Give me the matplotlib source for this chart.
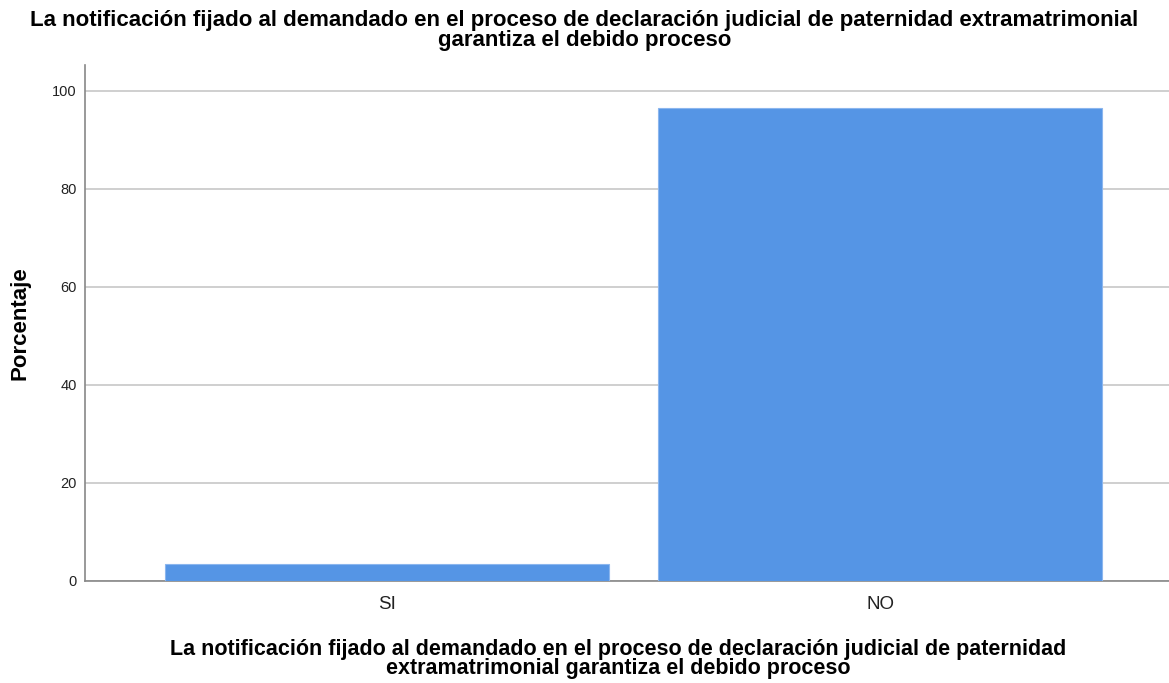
import matplotlib
matplotlib.use("Agg")
import matplotlib.pyplot as plt

categories = ["SI", "NO"]
percentages = [3.4, 96.6]
y_ticks = [0, 20, 40, 60, 80, 100]
title = ("La notificación fijado al demandado en el proceso de declaración judicial de paternidad extramatrimonial\n"
         "garantiza el debido proceso")
x_label = ("La notificación fijado al demandado en el proceso de declaración judicial de paternidad\n"
           "extramatrimonial garantiza el debido proceso")
y_label = "Porcentaje"

plt.rcParams['font.family'] = ['Liberation Sans', 'DejaVu Sans']

W, H = 1169, 683
fig = plt.figure(figsize=(W / 100, H / 100), dpi=100)
left, right, top, bottom = 85, 1169, 65, 581
ax = fig.add_axes([left / W, 1 - bottom / H, (right - left) / W, (bottom - top) / H])

x = list(range(len(categories)))
ax.bar(x, percentages, width=0.9, color="#5595e5", edgecolor="#8bb6ee", linewidth=0.8, zorder=3)

ax.set_xlim(-0.613, 1.586)
ax.set_ylim(0, 105.3)
ax.set_yticks(y_ticks)
ax.set_xticks(x)
ax.set_xticklabels(categories, fontsize=13.5, color="#222222")
ax.tick_params(axis='y', labelsize=10.5, colors="#222222", length=0, pad=6)
ax.tick_params(axis='x', length=0, pad=11)
ax.yaxis.grid(True, color="#cccccc", linewidth=1.3, zorder=0)
ax.set_axisbelow(True)
for s in ("top", "right"):
    ax.spines[s].set_visible(False)
for s in ("left", "bottom"):
    ax.spines[s].set_color("#888888")
    ax.spines[s].set_linewidth(1.2)

fig.text(20 / W, 1 - 323 / H, y_label, rotation=90, ha="center", va="center",
         fontsize=16, fontweight="bold")
fig.text(0.5, 1 - 30.5 / H, title, ha="center", va="center", fontsize=16,
         fontweight="bold", linespacing=0.98)
fig.text(618 / W, 1 - 659 / H, x_label, ha="center", va="center", fontsize=15.5,
         fontweight="bold", linespacing=0.9)

fig.savefig("out.png", dpi=100)
